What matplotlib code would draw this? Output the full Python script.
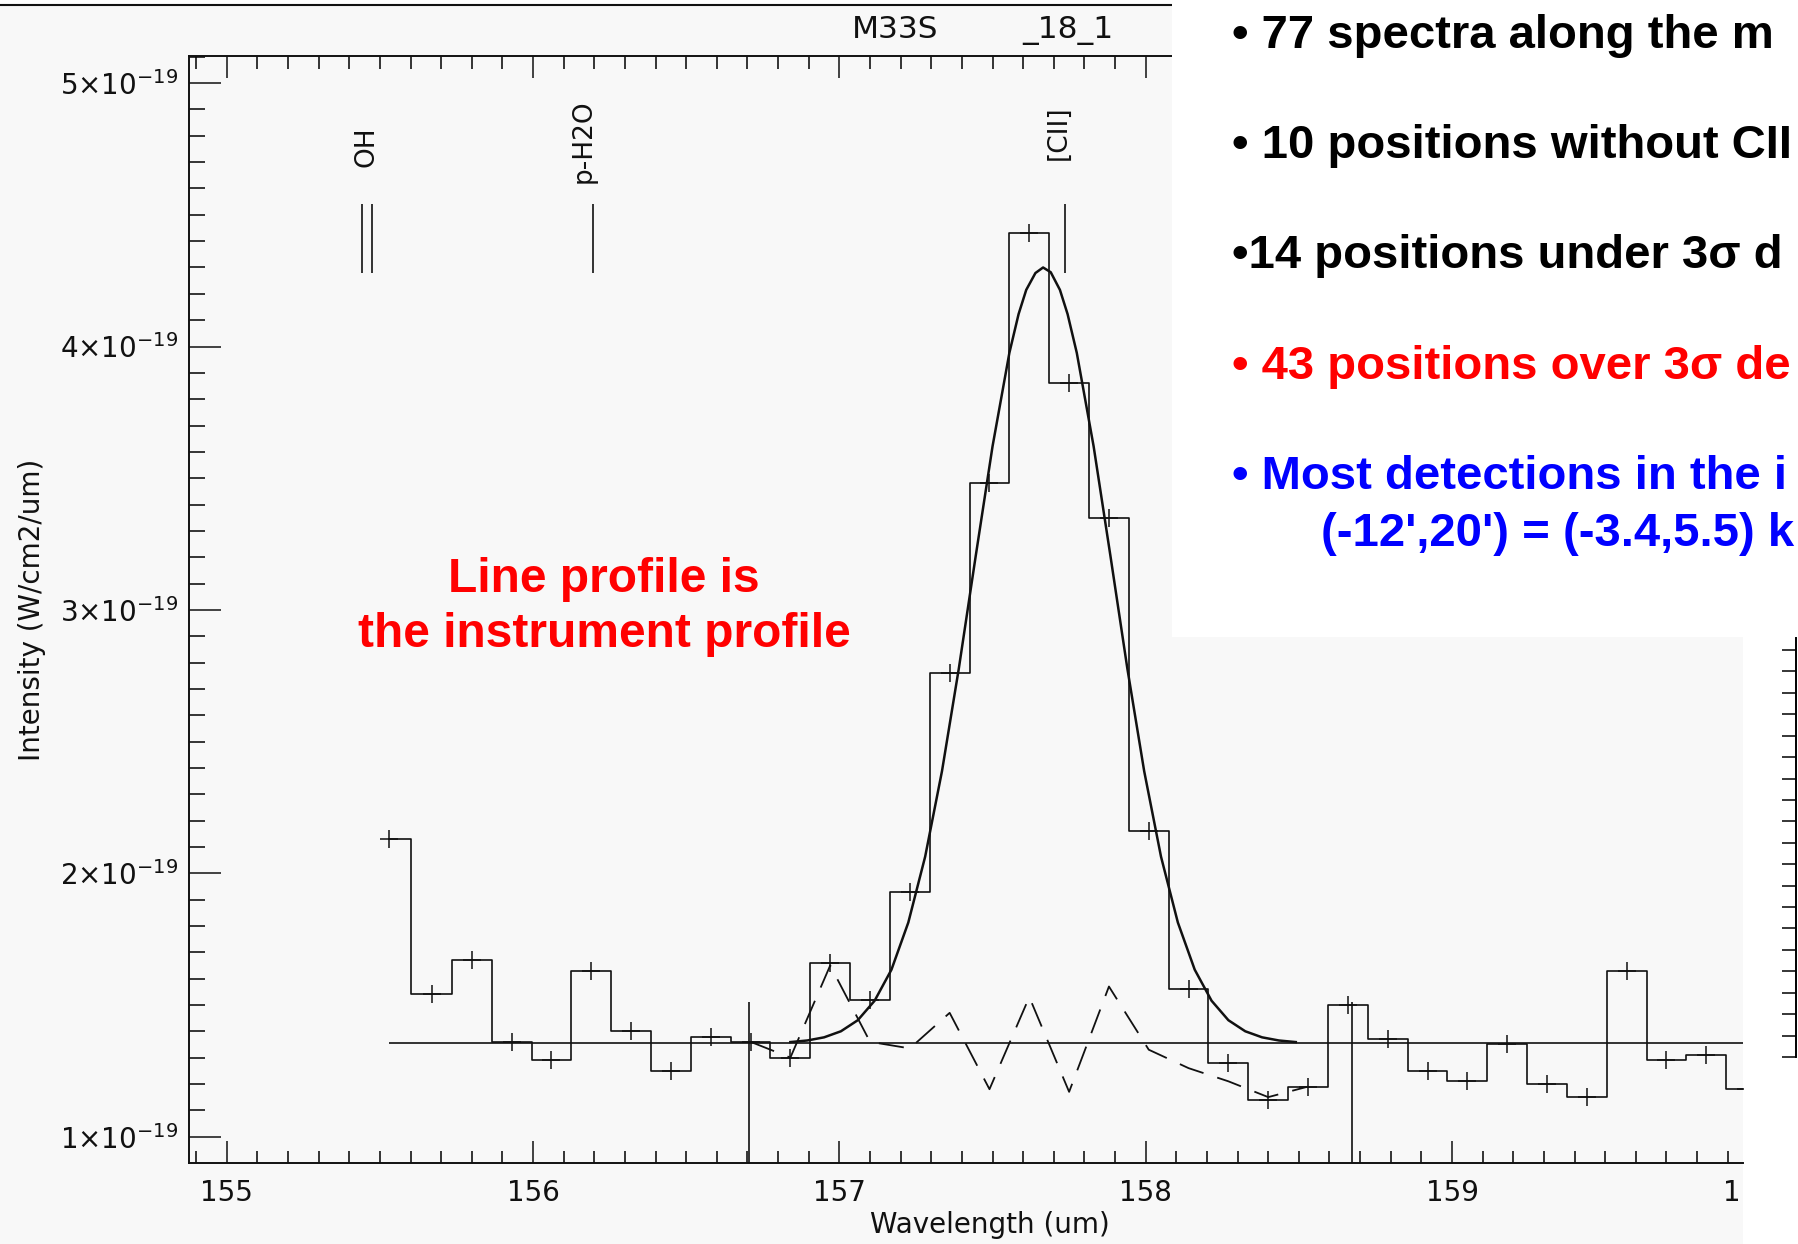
"""M33S strip 18_1: [CII] 158um spectrum with gaussian fit, residual and slide notes."""
import matplotlib
matplotlib.use("Agg")
import matplotlib.pyplot as plt
from matplotlib.patches import Rectangle
from matplotlib.lines import Line2D
from matplotlib.ticker import MultipleLocator, FixedLocator, FuncFormatter

W, H = 1798, 1244
INK, PLOT_BG = "#111111", "#f8f8f8"
SCALE = 1e-19                     # all intensities below are in units of 1e-19 W/cm2/um

# binned spectrum (bin centres, um) and intensity
wave = [155.53, 155.67, 155.80, 155.93, 156.06, 156.19, 156.32, 156.45, 156.58,
        156.71, 156.84, 156.97, 157.10, 157.23, 157.36, 157.49, 157.62, 157.75,
        157.88, 158.01, 158.14, 158.27, 158.40, 158.53, 158.66, 158.79, 158.92,
        159.05, 159.18, 159.31, 159.44, 159.57, 159.70, 159.83, 159.96]
flux = [2.13, 1.54, 1.67, 1.36, 1.29, 1.63, 1.40, 1.25, 1.38,
        1.36, 1.30, 1.66, 1.52, 1.93, 2.76, 3.48, 4.43, 3.86,
        3.35, 2.16, 1.56, 1.28, 1.14, 1.19, 1.50, 1.37, 1.25,
        1.21, 1.35, 1.20, 1.15, 1.63, 1.29, 1.31, 1.18]
continuum = 1.355

# fitted line profile
fit_wave = [156.84, 156.895, 156.95, 157.005, 157.06, 157.115, 157.17, 157.225,
            157.28, 157.335, 157.39, 157.445, 157.50, 157.555, 157.585, 157.61,
            157.64, 157.665, 157.69, 157.72, 157.745, 157.775, 157.83, 157.885,
            157.94, 157.995, 158.05, 158.105, 158.16, 158.215, 158.27, 158.325,
            158.38, 158.435, 158.49]
fit_flux = [1.359, 1.365, 1.377, 1.400, 1.442, 1.516, 1.634, 1.813,
            2.063, 2.388, 2.778, 3.204, 3.621, 3.976, 4.123, 4.215,
            4.279, 4.300, 4.282, 4.215, 4.123, 3.976, 3.621, 3.204,
            2.778, 2.388, 2.063, 1.813, 1.634, 1.516, 1.442, 1.400,
            1.377, 1.365, 1.359]

# residual (data - fit + continuum), dashed
res_wave = [156.71, 156.84, 156.97, 157.10, 157.23, 157.36, 157.49, 157.62,
            157.75, 157.88, 158.01, 158.14, 158.27, 158.40, 158.53]
res_flux = [1.36, 1.30, 1.65, 1.36, 1.335, 1.47, 1.18, 1.53,
            1.17, 1.57, 1.33, 1.26, 1.21, 1.15, 1.19]

window_edges = [156.705, 158.675]
window_top = 1.51

line_names = ["OH", "p-H2O", "[CII]"]
line_label_x = [155.455, 156.165, 157.716]
line_label_y = [4.76, 4.78, 4.81]
line_marks = [155.44, 155.475, 156.194, 157.738]
mark_lo, mark_hi = 4.28, 4.54

xticks = [155, 156, 157, 158, 159]
yticks = [1, 2, 3, 4, 5]

# the slide crops these lines at its right edge; keep what is visible
notes = [("• 77 spectra along the m", "black"),
         ("• 10 positions without CII", "black"),
         ("•14 positions under 3σ d", "black"),
         ("• 43 positions over 3σ de", "red"),
         ("• Most detections in the i", "blue")]
note_extra = "(-12',20') = (-3.4,5.5) k"
callout = ["Line profile is", "the instrument profile"]


def fx(px):
    return px / W


def fy(py):
    return 1 - py / H


fig = plt.figure(figsize=(W / 100, H / 100), dpi=100, facecolor="white")
fig.add_artist(Rectangle((0, 0), fx(1743), fy(6), transform=fig.transFigure,
                         facecolor=PLOT_BG, edgecolor="none", zorder=-5))
fig.add_artist(Line2D([0, fx(1172)], [fy(5), fy(5)], transform=fig.transFigure,
                      color=INK, lw=1.5, zorder=1))

ax = fig.add_axes([fx(189.4), fy(1162.7), (1743 - 189.4) / W, (1162.7 - 56) / H])
ax.set_facecolor("none")
ax.set_xlim(154.878, 159.95)
ax.set_ylim(0.901 * SCALE, 5.103 * SCALE)

ax.step(wave, [f * SCALE for f in flux], where="mid", color=INK, lw=1.2)
ax.plot(wave, [f * SCALE for f in flux], "+", color=INK, ms=13, mew=1.1)
ax.hlines(continuum * SCALE, wave[0], wave[-1], color=INK, lw=1.2)
ax.plot(fit_wave, [f * SCALE for f in fit_flux], color=INK, lw=1.8)
ax.plot(res_wave, [f * SCALE for f in res_flux], color=INK, lw=1.3,
        linestyle=(0, (14, 8)))
ax.vlines(window_edges, ax.get_ylim()[0], window_top * SCALE, color=INK, lw=1.2)
ax.vlines(line_marks, mark_lo * SCALE, mark_hi * SCALE, color=INK, lw=1.2)
for name, x, y in zip(line_names, line_label_x, line_label_y):
    ax.text(x, y * SCALE, name, rotation=90, ha="center", va="center",
            fontsize=19, color=INK)

for side in ("left", "bottom", "top"):
    ax.spines[side].set_linewidth(1.4)
    ax.spines[side].set_color(INK)
ax.spines["right"].set_visible(False)

ax.xaxis.set_major_locator(FixedLocator(xticks))
ax.xaxis.set_minor_locator(MultipleLocator(0.1))
ax.yaxis.set_major_locator(FixedLocator([t * SCALE for t in yticks]))
ax.yaxis.set_minor_locator(MultipleLocator(0.1 * SCALE))
ax.yaxis.set_major_formatter(FuncFormatter(
    lambda v, p: r"$%d{\times}10^{-19}$" % round(v / SCALE)))
ax.tick_params(axis="x", which="major", direction="in", length=16, width=1.1,
               top=True, labelsize=20, pad=12, colors=INK)
ax.tick_params(axis="x", which="minor", direction="in", length=9, width=1.1,
               top=True)
ax.tick_params(axis="y", which="major", direction="in", length=23, width=1.1,
               right=False, labelsize=20, pad=8, colors=INK)
ax.tick_params(axis="y", which="minor", direction="in", length=11.5, width=1.1,
               right=False)
# the 160 label is mostly hidden behind the neighbouring panel; only its "1" shows
ax.text(159.915, -0.027, "1", transform=ax.get_xaxis_transform(), ha="center",
        va="center", fontsize=20, color=INK)

fig.text(fx(32), fy(610), "Intensity (W/cm2/um)", rotation=90, ha="center",
         va="center", fontsize=20, color=INK)
fig.text(fx(990), fy(1225), "Wavelength (um)", ha="center", va="center",
         fontsize=20, color=INK)
fig.text(fx(852), fy(38), "M33S", ha="left", va="baseline", fontsize=22.5, color=INK)
fig.text(fx(1022), fy(38), "_18_1", ha="left", va="baseline", fontsize=22.5, color=INK)

# neighbouring panel, only its left axis peeks in at the right edge
ax3 = fig.add_axes([fx(1796), fy(1057), 0.02, (1057 - 638) / H])
ax3.set_facecolor("none")
for side in ("right", "top", "bottom"):
    ax3.spines[side].set_visible(False)
ax3.spines["left"].set_linewidth(1.4)
ax3.set_ylim(0, 19.56)
ax3.yaxis.set_major_locator(MultipleLocator(1))
ax3.tick_params(axis="y", direction="out", length=10, width=1.1, labelleft=False)
ax3.set_xticks([])

# slide text sits on white over the top-right of the plot
fig.add_artist(Rectangle((fx(1172), fy(637)), 1 - fx(1172), 637 / H,
                         transform=fig.transFigure, facecolor="white",
                         edgecolor="none", zorder=5))
bold = dict(family="Liberation Sans", weight="bold", fontsize=34, zorder=6)
for i, (txt, col) in enumerate(notes):
    fig.text(fx(1232), fy(47.8 + 110.3 * i), txt, color=col, va="baseline", **bold)
fig.text(fx(1321), fy(546), note_extra, color="blue", va="baseline", **bold)
fig.text(fx(604), fy(591.7), callout[0], color="red", ha="center", va="baseline",
         **dict(bold, fontsize=34.5))
fig.text(fx(604), fy(646.7), callout[1], color="red", ha="center", va="baseline",
         **dict(bold, fontsize=34.5))

fig.savefig("out.png", dpi=100, facecolor="white")
plt.close(fig)
